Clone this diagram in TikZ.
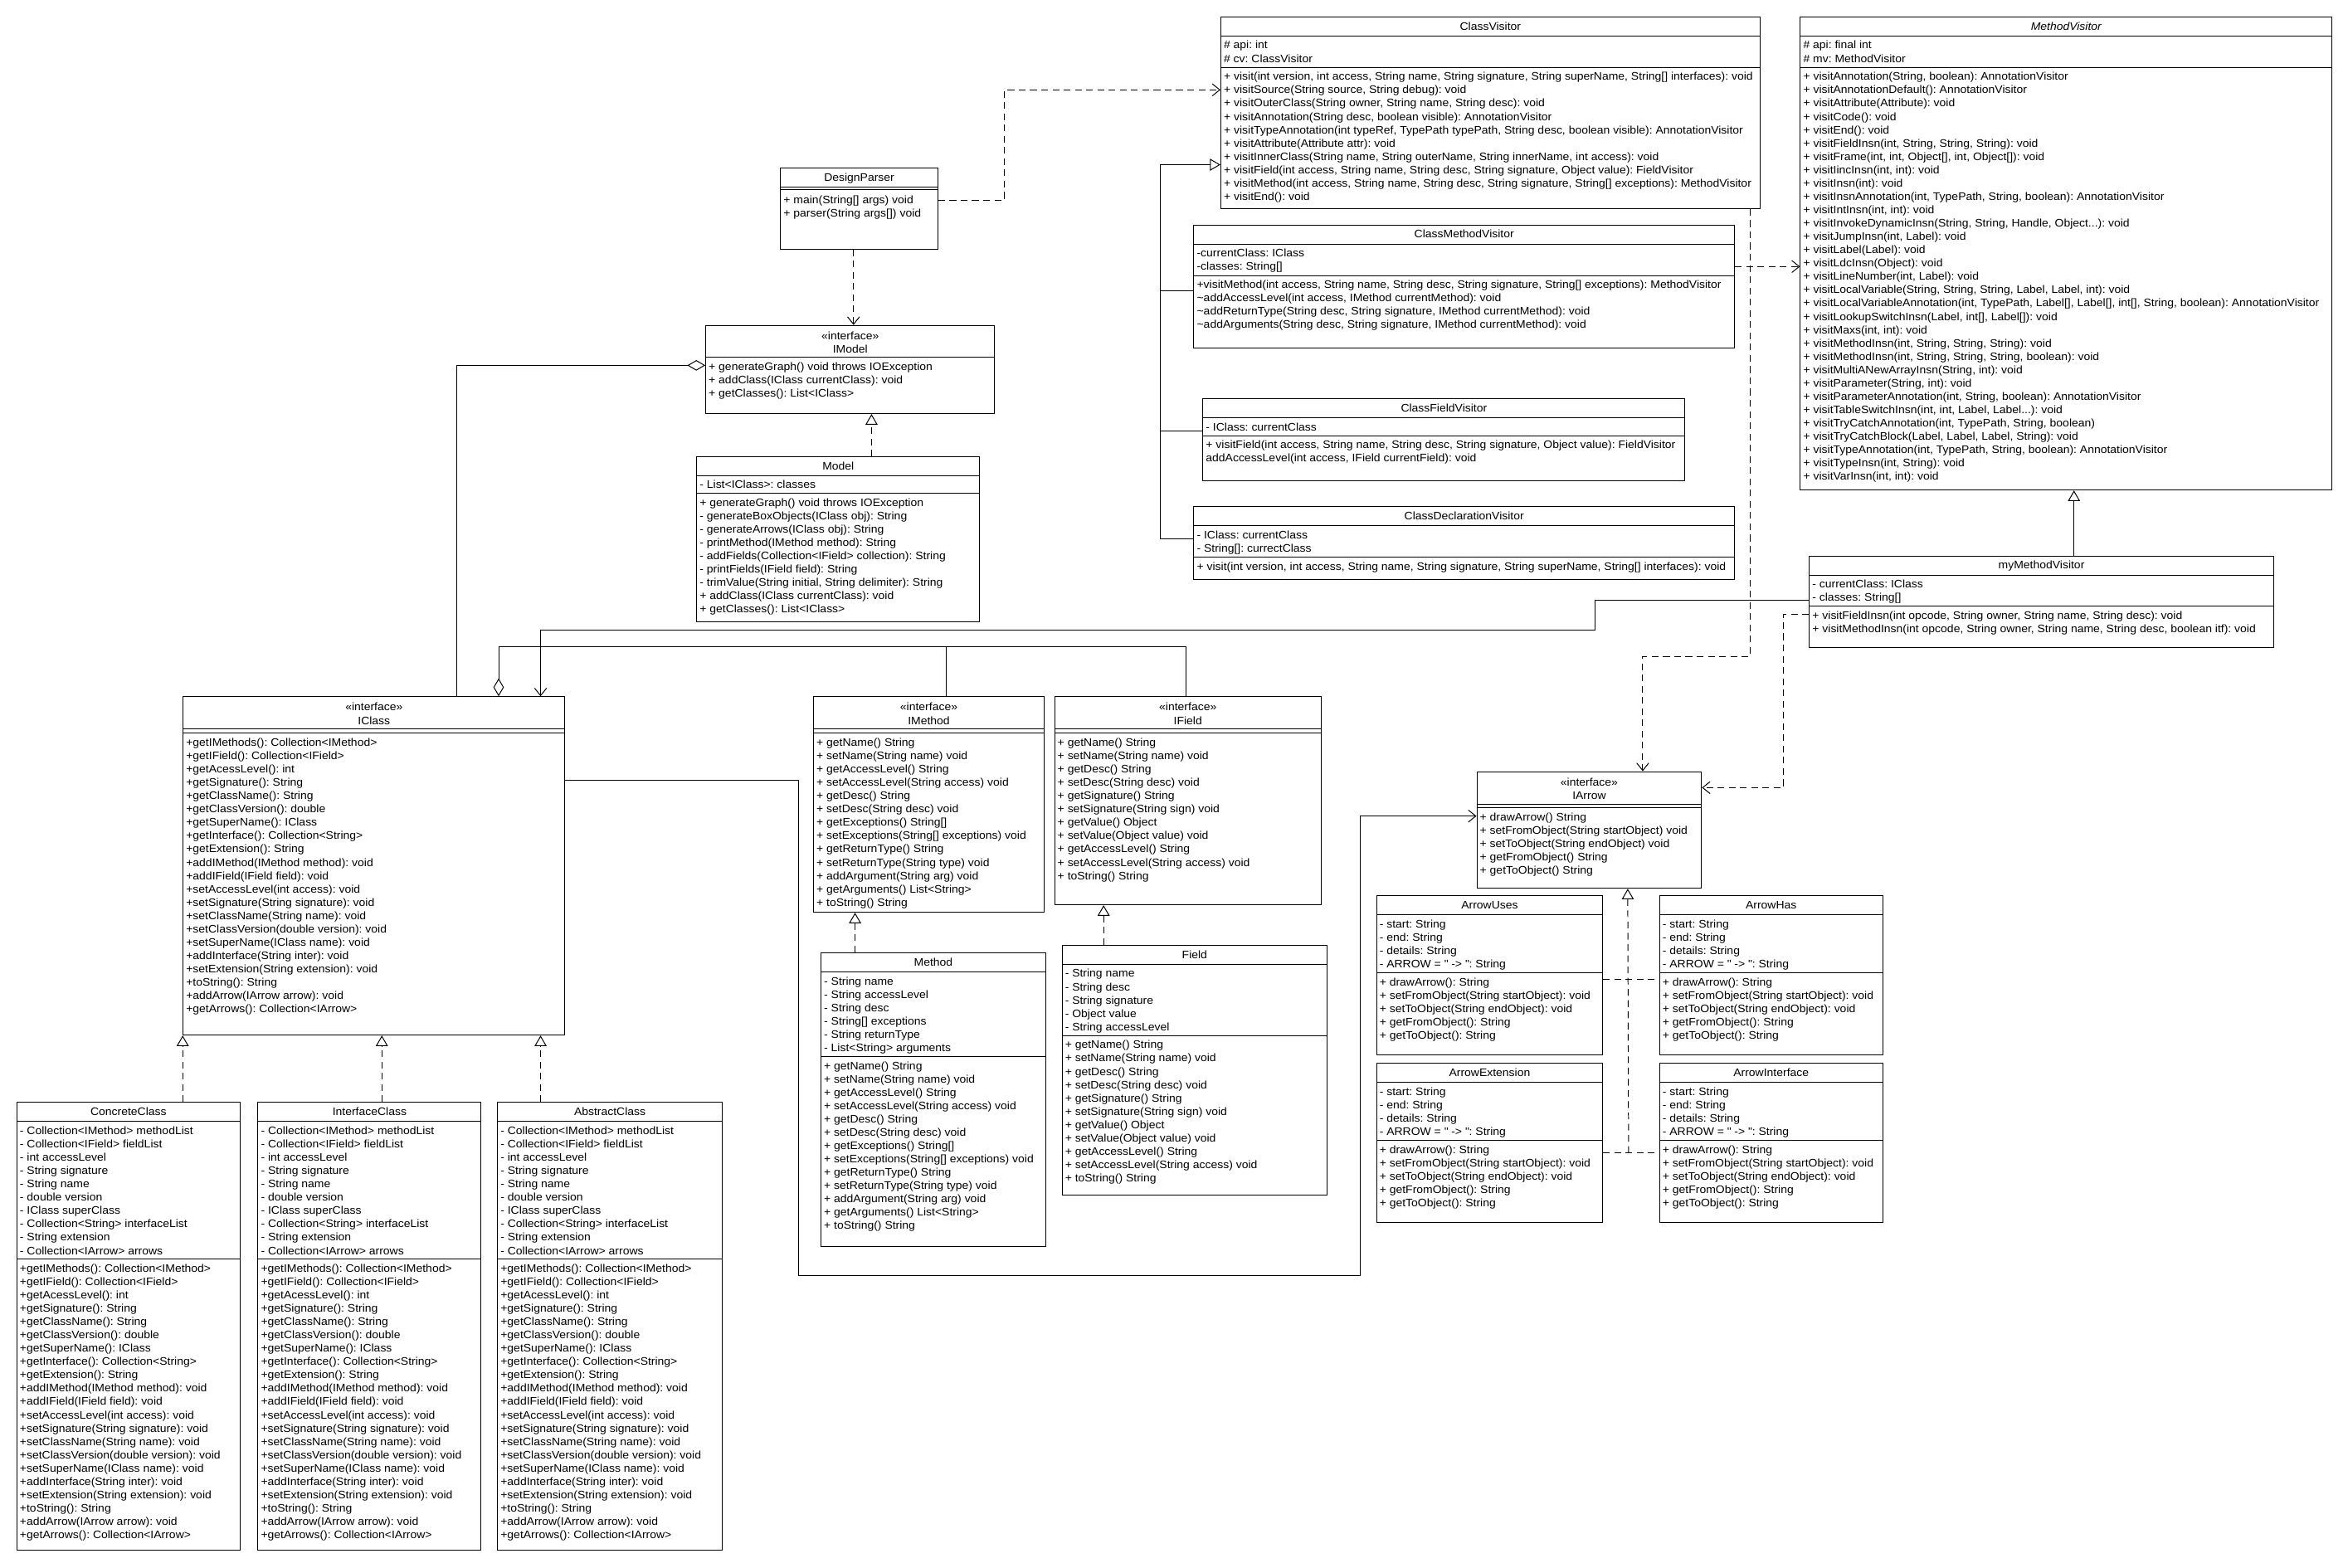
\documentclass[tikz,border=0pt]{standalone}
\usepackage{fontspec}
\setmainfont{Liberation Sans}[FakeStretch=1.06]
\usetikzlibrary{arrows.meta, calc}
\frenchspacing

\newcommand{\umlfont}{\fontsize{7.3}{8.9}\selectfont}
% class box helpers: name, x, y (from top), width, height
\newcommand{\umlbox}[5]{\node[classbox, minimum width=#4pt, minimum height=#5pt] (#1) at (#2,-#3) {};}
\newcommand{\umlname}[3]{\node[classname] (#1-name) at ($(#1.north)+(0,-#2)$) {#3};}
\newcommand{\umlstereo}[1]{\node[classname] (#1-stereo) at ($(#1.north)+(0,-9.8)$) {«interface»};}
\newcommand{\umlsep}[2]{\draw ($(#1.north west)+(0,-#2)$) -- ($(#1.north east)+(0,-#2)$);}
\newcommand{\umllist}[4]{\node[members] (#1-#2) at ($(#1.north west)+(2,-#3)$) {#4};}

% shared member lists
\newcommand{\iclassops}{+getIMethods(): Collection<IMethod>\\+getIField(): Collection<IField>\\+getAcessLevel(): int\\+getSignature(): String\\+getClassName(): String\\+getClassVersion(): double\\+getSuperName(): IClass\\+getInterface(): Collection<String>\\+getExtension(): String\\+addIMethod(IMethod method): void\\+addIField(IField field): void\\+setAccessLevel(int access): void\\+setSignature(String signature): void\\+setClassName(String name): void\\+setClassVersion(double version): void\\+setSuperName(IClass name): void\\+addInterface(String inter): void\\+setExtension(String extension): void\\+toString(): String\\+addArrow(IArrow arrow): void\\+getArrows(): Collection<IArrow>}
\newcommand{\iclassattrs}{- Collection<IMethod> methodList\\- Collection<IField> fieldList\\- int accessLevel\\- String signature\\- String name\\- double version\\- IClass superClass\\- Collection<String> interfaceList\\- String extension\\- Collection<IArrow> arrows}
\newcommand{\imethodops}{+ getName() String\\+ setName(String name) void\\+ getAccessLevel() String\\+ setAccessLevel(String access) void\\+ getDesc() String\\+ setDesc(String desc) void\\+ getExceptions() String[]\\+ setExceptions(String[] exceptions) void\\+ getReturnType() String\\+ setReturnType(String type) void\\+ addArgument(String arg) void\\+ getArguments() List<String>\\+ toString() String}
\newcommand{\ifieldops}{+ getName() String\\+ setName(String name) void\\+ getDesc() String\\+ setDesc(String desc) void\\+ getSignature() String\\+ setSignature(String sign) void\\+ getValue() Object\\+ setValue(Object value) void\\+ getAccessLevel() String\\+ setAccessLevel(String access) void\\+ toString() String}
\newcommand{\arrowattrs}{- start: String\\- end: String\\- details: String\\- ARROW = \textquotedbl{} -> \textquotedbl: String}
\newcommand{\arrowops}{+ drawArrow(): String\\+ setFromObject(String startObject): void\\+ setToObject(String endObject): void\\+ getFromObject(): String\\+ getToObject(): String}

\begin{document}
\begin{tikzpicture}[
        x=1pt, y=1pt, line width=0.55pt,
        classbox/.style={draw, inner sep=0pt, anchor=north west},
        classname/.style={anchor=base, inner sep=0pt, font=\umlfont},
        members/.style={anchor=north west, inner sep=0pt, align=left, font=\umlfont},
        dashedline/.style={dash pattern=on 4.5pt off 3pt},
        assoc/.style={-{Straight Barb[length=5pt,width=8pt]}},
        dependency/.style={assoc, dashedline},
        generalization/.style={-{Triangle[open,length=7pt,width=8pt]}},
        realization/.style={generalization, dashedline},
        aggregation/.style={{Diamond[open,length=12pt,width=7pt]}-}
    ]
        \useasboundingbox (0,0) rectangle (1568,-1047);

        % Parser and model
        \umlbox{designparser}{521}{112}{105}{54}
        \umlname{designparser}{9}{DesignParser}
        \umlsep{designparser}{12.8}
        \umlsep{designparser}{14.8}
        \umllist{designparser}{ops}{18.5}{+ main(String[] args) void\\+ parser(String args[]) void}

        \umlbox{imodel}{471}{217}{193}{59}
        \umlstereo{imodel}
        \umlname{imodel}{18.7}{IModel}
        \umlsep{imodel}{21.5}
        \umllist{imodel}{ops}{24.6}{+ generateGraph() void throws IOException\\+ addClass(IClass currentClass): void\\+ getClasses(): List<IClass>}

        \umlbox{model}{465}{305}{189}{110}
        \umlname{model}{9}{Model}
        \umlsep{model}{12.5}
        \umlsep{model}{24.5}
        \umllist{model}{attrs}{15.6}{- List<IClass>: classes}
        \umllist{model}{ops}{27.6}{+ generateGraph() void throws IOException\\- generateBoxObjects(IClass obj): String\\- generateArrows(IClass obj): String\\- printMethod(IMethod method): String\\- addFields(Collection<IField> collection): String\\- printFields(IField field): String\\- trimValue(String initial, String delimiter): String\\+ addClass(IClass currentClass): void\\+ getClasses(): List<IClass>}

        % Visitors
        \umlbox{classvisitor}{815}{11}{360}{128}
        \umlname{classvisitor}{9}{ClassVisitor}
        \umlsep{classvisitor}{13}
        \umlsep{classvisitor}{34}
        \umllist{classvisitor}{attrs}{16.1}{\# api: int\\\# cv: ClassVisitor}
        \umllist{classvisitor}{ops}{37.1}{+ visit(int version, int access, String name, String signature, String superName, String[] interfaces): void\\+ visitSource(String source, String debug): void\\+ visitOuterClass(String owner, String name, String desc): void\\+ visitAnnotation(String desc, boolean visible): AnnotationVisitor\\+ visitTypeAnnotation(int typeRef, TypePath typePath, String desc, boolean visible): AnnotationVisitor\\+ visitAttribute(Attribute attr): void\\+ visitInnerClass(String name, String outerName, String innerName, int access): void\\+ visitField(int access, String name, String desc, String signature, Object value): FieldVisitor\\+ visitMethod(int access, String name, String desc, String signature, String[] exceptions): MethodVisitor\\+ visitEnd(): void}

        \umlbox{methodvisitor}{1202}{11}{355}{316}
        \umlname{methodvisitor}{9}{\itshape MethodVisitor}
        \umlsep{methodvisitor}{13}
        \umlsep{methodvisitor}{34}
        \umllist{methodvisitor}{attrs}{16.1}{\# api: final int\\\# mv: MethodVisitor}
        \umllist{methodvisitor}{ops}{37.1}{+ visitAnnotation(String, boolean): AnnotationVisitor\\+ visitAnnotationDefault(): AnnotationVisitor\\+ visitAttribute(Attribute): void\\+ visitCode(): void\\+ visitEnd(): void\\+ visitFieldInsn(int, String, String, String): void\\+ visitFrame(int, int, Object[], int, Object[]): void\\+ visitIincInsn(int, int): void\\+ visitInsn(int): void\\+ visitInsnAnnotation(int, TypePath, String, boolean): AnnotationVisitor\\+ visitIntInsn(int, int): void\\+ visitInvokeDynamicInsn(String, String, Handle, Object...): void\\+ visitJumpInsn(int, Label): void\\+ visitLabel(Label): void\\+ visitLdcInsn(Object): void\\+ visitLineNumber(int, Label): void\\+ visitLocalVariable(String, String, String, Label, Label, int): void\\+ visitLocalVariableAnnotation(int, TypePath, Label[], Label[], int[], String, boolean): AnnotationVisitor\\+ visitLookupSwitchInsn(Label, int[], Label[]): void\\+ visitMaxs(int, int): void\\+ visitMethodInsn(int, String, String, String): void\\+ visitMethodInsn(int, String, String, String, boolean): void\\+ visitMultiANewArrayInsn(String, int): void\\+ visitParameter(String, int): void\\+ visitParameterAnnotation(int, String, boolean): AnnotationVisitor\\+ visitTableSwitchInsn(int, int, Label, Label...): void\\+ visitTryCatchAnnotation(int, TypePath, String, boolean)\\+ visitTryCatchBlock(Label, Label, Label, String): void\\+ visitTypeAnnotation(int, TypePath, String, boolean): AnnotationVisitor\\+ visitTypeInsn(int, String): void\\+ visitVarInsn(int, int): void}

        \umlbox{classmethodvisitor}{797}{150}{361}{82}
        \umlname{classmethodvisitor}{9}{ClassMethodVisitor}
        \umlsep{classmethodvisitor}{13}
        \umlsep{classmethodvisitor}{34}
        \umllist{classmethodvisitor}{attrs}{16.1}{-currentClass: IClass\\-classes: String[]}
        \umllist{classmethodvisitor}{ops}{37.1}{+visitMethod(int access, String name, String desc, String signature, String[] exceptions): MethodVisitor\\\textasciitilde{}addAccessLevel(int access, IMethod currentMethod): void\\\textasciitilde{}addReturnType(String desc, String signature, IMethod currentMethod): void\\\textasciitilde{}addArguments(String desc, String signature, IMethod currentMethod): void}

        \umlbox{classfieldvisitor}{803}{266}{322}{55}
        \umlname{classfieldvisitor}{9}{ClassFieldVisitor}
        \umlsep{classfieldvisitor}{13}
        \umlsep{classfieldvisitor}{25}
        \umllist{classfieldvisitor}{attrs}{16.1}{- IClass: currentClass}
        \umllist{classfieldvisitor}{ops}{28.1}{+ visitField(int access, String name, String desc, String signature, Object value): FieldVisitor\\addAccessLevel(int access, IField currentField): void}

        \umlbox{classdeclvisitor}{797}{338}{361}{49}
        \umlname{classdeclvisitor}{9}{ClassDeclarationVisitor}
        \umlsep{classdeclvisitor}{13}
        \umlsep{classdeclvisitor}{34}
        \umllist{classdeclvisitor}{attrs}{16.1}{- IClass: currentClass\\- String[]: currectClass}
        \umllist{classdeclvisitor}{ops}{37.1}{+ visit(int version, int access, String name, String signature, String superName, String[] interfaces): void}

        \umlbox{mymethodvisitor}{1208}{371}{310}{61}
        \umlname{mymethodvisitor}{9}{myMethodVisitor}
        \umlsep{mymethodvisitor}{13}
        \umlsep{mymethodvisitor}{34}
        \umllist{mymethodvisitor}{attrs}{16.1}{- currentClass: IClass\\- classes: String[]}
        \umllist{mymethodvisitor}{ops}{37.1}{+ visitFieldInsn(int opcode, String owner, String name, String desc): void\\+ visitMethodInsn(int opcode, String owner, String name, String desc, boolean itf): void}

        % Interfaces
        \umlbox{iclass}{122}{465}{255}{226}
        \umlstereo{iclass}
        \umlname{iclass}{18.7}{IClass}
        \umlsep{iclass}{21.9}
        \umlsep{iclass}{24.6}
        \umllist{iclass}{ops}{27.8}{\iclassops}

        \umlbox{imethod}{543}{465}{154}{144}
        \umlstereo{imethod}
        \umlname{imethod}{18.7}{IMethod}
        \umlsep{imethod}{21.9}
        \umlsep{imethod}{24.6}
        \umllist{imethod}{ops}{27.8}{\imethodops}

        \umlbox{ifield}{704}{465}{178}{139}
        \umlstereo{ifield}
        \umlname{ifield}{18.7}{IField}
        \umlsep{ifield}{21.9}
        \umlsep{ifield}{24.6}
        \umllist{ifield}{ops}{27.8}{\ifieldops}

        \umlbox{iarrow}{986}{515}{150}{78}
        \umlstereo{iarrow}
        \umlname{iarrow}{18.7}{IArrow}
        \umlsep{iarrow}{21.9}
        \umlsep{iarrow}{24.6}
        \umllist{iarrow}{ops}{27.8}{+ drawArrow() String\\+ setFromObject(String startObject) void\\+ setToObject(String endObject) void\\+ getFromObject() String\\+ getToObject() String}

        % Implementations
        \umlbox{method}{548}{636}{150}{196}
        \umlname{method}{9}{Method}
        \umlsep{method}{13}
        \umlsep{method}{69.6}
        \umllist{method}{attrs}{16.1}{- String name\\- String accessLevel\\- String desc\\- String[] exceptions\\- String returnType\\- List<String> arguments}
        \umllist{method}{ops}{72.7}{\imethodops}

        \umlbox{field}{709}{631}{177}{167}
        \umlname{field}{9}{Field}
        \umlsep{field}{13}
        \umlsep{field}{60.6}
        \umllist{field}{attrs}{16.1}{- String name\\- String desc\\- String signature\\- Object value\\- String accessLevel}
        \umllist{field}{ops}{63.7}{\ifieldops}

        \umlbox{concreteclass}{11}{736}{149}{299}
        \umlname{concreteclass}{9}{ConcreteClass}
        \umlsep{concreteclass}{13}
        \umlsep{concreteclass}{104.9}
        \umllist{concreteclass}{attrs}{16.1}{\iclassattrs}
        \umllist{concreteclass}{ops}{108}{\iclassops}

        \umlbox{interfaceclass}{172}{736}{149}{299}
        \umlname{interfaceclass}{9}{InterfaceClass}
        \umlsep{interfaceclass}{13}
        \umlsep{interfaceclass}{104.9}
        \umllist{interfaceclass}{attrs}{16.1}{\iclassattrs}
        \umllist{interfaceclass}{ops}{108}{\iclassops}

        \umlbox{abstractclass}{332}{736}{150}{299}
        \umlname{abstractclass}{9}{AbstractClass}
        \umlsep{abstractclass}{13}
        \umlsep{abstractclass}{104.9}
        \umllist{abstractclass}{attrs}{16.1}{\iclassattrs}
        \umllist{abstractclass}{ops}{108}{\iclassops}

        % Arrow classes
        \umlbox{arrowuses}{919}{598}{151}{106}
        \umlname{arrowuses}{9}{ArrowUses}
        \umlbox{arrowhas}{1108}{598}{149}{106}
        \umlname{arrowhas}{9}{ArrowHas}
        \umlbox{arrowext}{919}{710}{151}{106}
        \umlname{arrowext}{9}{ArrowExtension}
        \umlbox{arrowintf}{1108}{710}{149}{106}
        \umlname{arrowintf}{9}{ArrowInterface}
        \foreach \arrowbox in {arrowuses, arrowhas, arrowext, arrowintf} {
            \umlsep{\arrowbox}{13}
            \umlsep{\arrowbox}{51.7}
            \umllist{\arrowbox}{attrs}{16.1}{\arrowattrs}
            \umllist{\arrowbox}{ops}{54.8}{\arrowops}
        }

        % Parser links
        \draw[dependency] ($(designparser.north east)+(0,-21.7)$) -- ++(44,0) |- ($(classvisitor.north west)+(0,-49)$);
        \draw[dependency] ($(designparser.south west)+(49,0)$) -- ($(imodel.north west)+(99,0)$);
        \draw[realization] ($(model.north west)+(117,0)$) -- ($(imodel.south west)+(111,0)$);
        \draw[aggregation] ($(imodel.north west)+(0,-27)$) -| ($(iclass.north west)+(183,0)$);

        % Visitor hierarchy
        \draw[generalization] ($(classdeclvisitor.north west)+(0,-22)$) -- ++(-22,0) |- ($(classvisitor.north west)+(0,-99)$);
        \draw ($(classmethodvisitor.north west)+(0,-44)$) -- ++(-22,0);
        \draw ($(classfieldvisitor.north west)+(0,-22)$) -- ++(-28,0);
        \draw[dependency] ($(classmethodvisitor.north east)+(0,-28)$) -- ($(methodvisitor.north west)+(0,-167)$);
        \draw[generalization] ($(mymethodvisitor.north west)+(177,0)$) -- ($(methodvisitor.south west)+(183,0)$);

        % Links into IClass
        \draw[assoc] ($(mymethodvisitor.north west)+(0,-30)$) -- ++(-143,0) -- ++(0,-20) -| ($(iclass.north west)+(239,0)$);
        \draw[aggregation] ($(iclass.north west)+(211,0)$) -- ++(0,33) -| ($(ifield.north west)+(88,0)$);
        \draw ($(imethod.north west)+(89,0)$) -- ++(0,33);
        \draw[assoc] ($(iclass.north east)+(0,-56)$) -- ++(156,0) -- ++(0,-331) -- ++(375,0) |- ($(iarrow.north west)+(0,-30)$);

        % Links into IArrow
        \draw[dependency] ($(classvisitor.south east)+(-7,0)$) -- ++(0,-299) -| ($(iarrow.north west)+(111,0)$);
        \draw[dependency] ($(mymethodvisitor.north west)+(0,-39)$) -- ++(-17,0) |- ($(iarrow.north east)+(0,-11)$);
        \draw[realization] ($(arrowext.north east)+(17,-60)$) -- ($(iarrow.south west)+(101,0)$);
        \draw[dashedline] ($(arrowuses.north east)+(0,-56)$) -- ($(arrowhas.north west)+(0,-56)$);
        \draw[dashedline] ($(arrowext.north east)+(0,-60)$) -- ($(arrowintf.north west)+(0,-60)$);

        % Realizations
        \draw[realization] ($(concreteclass.north west)+(111,0)$) -- (iclass.south west);
        \draw[realization] ($(interfaceclass.north west)+(83,0)$) -- ($(iclass.south west)+(133,0)$);
        \draw[realization] ($(abstractclass.north west)+(29,0)$) -- ($(iclass.south west)+(239,0)$);
        \draw[realization] ($(method.north west)+(23,0)$) -- ($(imethod.south west)+(28,0)$);
        \draw[realization] ($(field.north west)+(28,0)$) -- ($(ifield.south west)+(33,0)$);
    \end{tikzpicture}
\end{document}
